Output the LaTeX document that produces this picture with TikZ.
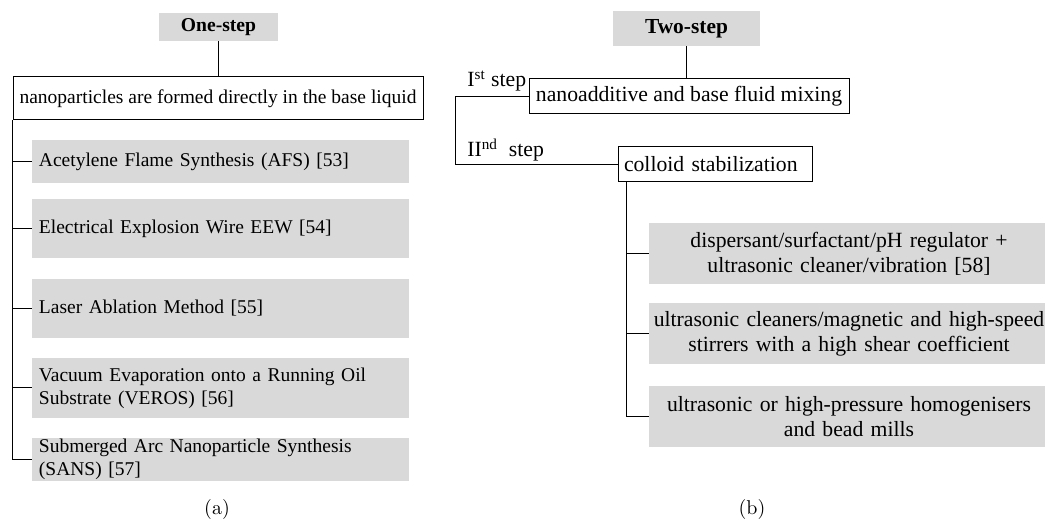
\documentclass[tikz,border=0pt]{standalone}
\usepackage{fontspec}
\newfontfamily\tnr{Liberation Serif}
\usepackage{tikz}
\definecolor{nfgray}{HTML}{D9D9D9}
\tikzset{
    nfhead/.style={fill=nfgray, inner sep=0pt},
    nfbox/.style={draw, line width=0.5pt, inner sep=0pt},
    nfitem/.style={fill=nfgray, inner ysep=0pt},
    nfline/.style={line width=0.5pt},
    leftfont/.style={font=\tnr\fontsize{9.75}{11.5}\selectfont},
    rightfont/.style={font=\tnr\fontsize{10.85}{12.5}\selectfont}
}

\begin{document}
\begin{tikzpicture}[x=0.5pt, y=-0.5pt]
  \useasboundingbox (0,0) rectangle (1045,522);
  \node[nfhead, minimum width=59.5pt, minimum height=14pt,
    font=\tnr\bfseries\fontsize{9.8}{11.5}\selectfont] (onestep) at (218.5,27) {One-step};
  \node[nfbox, leftfont, minimum width=205pt, minimum height=21.5pt]
    (nano) at (218,98.5) {nanoparticles are formed directly in the base liquid};
  \node[nfitem, leftfont, text width=181.5pt, align=left, minimum height=21.5pt]
    (afs) at (220.5,161.5) {Acetylene Flame Synthesis (AFS) [53]};
  \node[nfitem, leftfont, text width=181.5pt, align=left, minimum height=29.5pt]
    (eew) at (220.5,228.5) {Electrical Explosion Wire EEW [54]};
  \node[nfitem, leftfont, text width=181.5pt, align=left, minimum height=29.5pt]
    (laser) at (220.5,308.5) {Laser Ablation Method [55]};
  \node[nfitem, leftfont, text width=181.5pt, align=left, minimum height=30pt]
    (veros) at (220.5,388) {Vacuum Evaporation onto a Running Oil\\ Substrate (VEROS) [56]};
  \node[nfitem, leftfont, text width=181.5pt, align=left, minimum height=21.5pt]
    (sans) at (220.5,459.5) {Submerged Arc Nanoparticle Synthesis\\ (SANS) [57]};
  \draw[nfline] (onestep.south) -- (onestep.south |- nano.north);
  \draw[nfline] (nano.south west) |- (sans.west);
  \foreach \m in {afs,eew,laser,veros}
    \draw[nfline] (\m.west) -- (\m.west -| nano.south west);

  \node[nfhead, minimum width=73.5pt, minimum height=17.5pt,
    font=\tnr\bfseries\fontsize{10.7}{12.5}\selectfont] (twostep) at (686.5,28.5) {Two-step};
  \node[nfbox, rightfont, minimum width=160pt, minimum height=17.5pt]
    (mixing) at (689,96.5) {nanoadditive and base fluid mixing};
  \node[nfbox, rightfont, inner xsep=3pt, text width=91pt, align=left, minimum height=17.5pt]
    (colloid) at (715,164.5) {colloid stabilization};
  \node[nfitem, rightfont, inner xsep=0pt, text width=200pt, align=center, minimum height=30.5pt]
    (disp) at (849,253.5) {dispersant/surfactant/pH regulator +\\ ultrasonic cleaner/vibration [58]};
  \node[nfitem, rightfont, inner xsep=0pt, text width=200pt, align=center, minimum height=30.5pt]
    (stir) at (849,333.5) {ultrasonic cleaners/magnetic and high-speed\\ stirrers with a high shear coefficient};
  \node[nfitem, rightfont, inner xsep=0pt, text width=200pt, align=center, minimum height=30.5pt]
    (homog) at (849,416.5) {ultrasonic or high-pressure homogenisers\\ and bead mills};
  \node[rightfont, anchor=base west, inner sep=0pt] (firstlbl) at (467,87) {I\textsuperscript{st} step};
  \node[rightfont, anchor=base west, inner sep=0pt] (secondlbl) at (467,157) {II\textsuperscript{nd}\ \ step};
  \draw[nfline] (twostep.south) -- (twostep.south |- mixing.north);
  \draw[nfline] (mixing.west) -- ++(-73,0) |- (colloid.west);
  \coordinate (stem) at ([xshift=4.5pt]colloid.south west);
  \draw[nfline] (stem) |- (homog.west);
  \foreach \m in {disp,stir}
    \draw[nfline] (\m.west) -- (\m.west -| stem);

  \node[font=\fontsize{10}{12}\selectfont] (capa) at (217,510) {(a)};
  \node[font=\fontsize{10}{12}\selectfont] (capb) at (752,510) {(b)};
\end{tikzpicture}
\end{document}
